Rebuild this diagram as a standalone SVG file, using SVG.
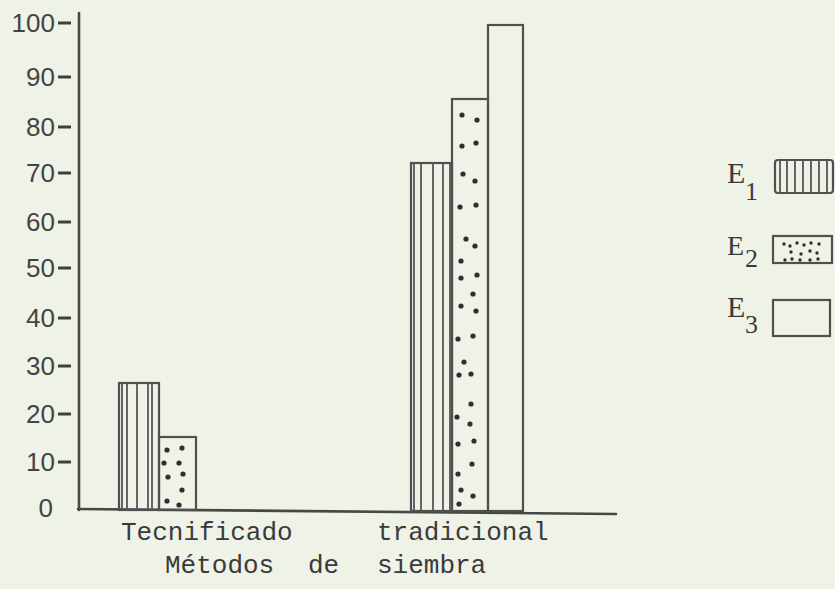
<svg xmlns="http://www.w3.org/2000/svg" width="835" height="589" viewBox="0 0 835 589">
<style>
.bg{fill:#eef2e7}
.ax{stroke:#474747;stroke-width:2.6;fill:none;stroke-linecap:round}
.tk{stroke:#3f3f3f;stroke-width:3}
.bar{fill:none;stroke:#4f4f4f;stroke-width:2.2}
.hl{stroke:#555;stroke-width:1.8}
.dot{fill:#2f2f2f}
.num{font-family:"Liberation Sans","DejaVu Sans",sans-serif;font-size:26px;fill:#444;text-anchor:end}
.lab{font-family:"Liberation Mono","DejaVu Sans Mono",monospace;font-size:26px;fill:#3a3a3a}
.leg{font-family:"Liberation Serif","DejaVu Serif",serif;fill:#3a3a3a}
</style>
<rect class="bg" x="0" y="0" width="835" height="589"/>
<g id="axes">
<line class="ax" x1="79" y1="13" x2="79" y2="510"/>
<line class="ax" x1="78" y1="509" x2="616" y2="514"/>
</g>
<g id="y-ticks">
<line class="tk" x1="58" y1="23" x2="71" y2="23"/>
<line class="tk" x1="58" y1="77" x2="71" y2="77"/>
<line class="tk" x1="58" y1="127" x2="71" y2="127"/>
<line class="tk" x1="58" y1="173" x2="71" y2="173"/>
<line class="tk" x1="58" y1="222" x2="71" y2="222"/>
<line class="tk" x1="58" y1="268" x2="71" y2="268"/>
<line class="tk" x1="58" y1="318" x2="71" y2="318"/>
<line class="tk" x1="58" y1="366" x2="71" y2="366"/>
<line class="tk" x1="58" y1="414" x2="71" y2="414"/>
<line class="tk" x1="58" y1="462" x2="71" y2="462"/>
<text class="num" x="55" y="32">100</text>
<text class="num" x="55" y="86">90</text>
<text class="num" x="55" y="136">80</text>
<text class="num" x="55" y="182">70</text>
<text class="num" x="55" y="231">60</text>
<text class="num" x="55" y="277">50</text>
<text class="num" x="55" y="327">40</text>
<text class="num" x="55" y="375">30</text>
<text class="num" x="55" y="423">20</text>
<text class="num" x="55" y="471">10</text>
<text class="num" x="53" y="517">0</text>
</g>
<g id="bar-tec-e1">
<rect class="bar" x="119" y="383" width="40" height="127"/>
<line class="hl" x1="122" y1="383" x2="122" y2="510"/>
<line class="hl" x1="127" y1="383" x2="127" y2="510"/>
<line class="hl" x1="137" y1="383" x2="137" y2="510"/>
<line class="hl" x1="148" y1="383" x2="148" y2="510"/>
<line class="hl" x1="152" y1="383" x2="152" y2="510"/>
</g>
<g id="bar-tec-e2">
<rect class="bar" x="159" y="437" width="37" height="73"/>
<circle class="dot" cx="167" cy="450" r="2.6"/><circle class="dot" cx="182" cy="448" r="2.6"/>
<circle class="dot" cx="164" cy="463" r="2.6"/><circle class="dot" cx="179" cy="463" r="2.6"/>
<circle class="dot" cx="168" cy="477" r="2.6"/><circle class="dot" cx="183" cy="474" r="2.6"/>
<circle class="dot" cx="182" cy="490" r="2.6"/><circle class="dot" cx="167" cy="501" r="2.6"/>
<circle class="dot" cx="179" cy="505" r="2.6"/>
</g>
<g id="bar-trad-e1">
<rect class="bar" x="411" y="163" width="41" height="348"/>
<line class="hl" x1="414" y1="163" x2="414" y2="511"/>
<line class="hl" x1="421" y1="163" x2="421" y2="511"/>
<line class="hl" x1="433" y1="163" x2="433" y2="511"/>
<line class="hl" x1="443" y1="163" x2="443" y2="511"/>
<line class="hl" x1="450" y1="163" x2="450" y2="511"/>
</g>
<g id="bar-trad-e2">
<rect class="bar" x="452" y="99" width="36" height="412"/>
<circle class="dot" cx="462" cy="115" r="2.6"/><circle class="dot" cx="477" cy="120" r="2.6"/>
<circle class="dot" cx="462" cy="146" r="2.6"/><circle class="dot" cx="476" cy="143" r="2.6"/>
<circle class="dot" cx="463" cy="174" r="2.6"/><circle class="dot" cx="475" cy="181" r="2.6"/>
<circle class="dot" cx="460" cy="207" r="2.6"/><circle class="dot" cx="476" cy="205" r="2.6"/>
<circle class="dot" cx="466" cy="239" r="2.6"/><circle class="dot" cx="475" cy="246" r="2.6"/>
<circle class="dot" cx="461" cy="261" r="2.6"/>
<circle class="dot" cx="461" cy="278" r="2.6"/><circle class="dot" cx="477" cy="275" r="2.6"/>
<circle class="dot" cx="473" cy="294" r="2.6"/><circle class="dot" cx="461" cy="306" r="2.6"/>
<circle class="dot" cx="476" cy="311" r="2.6"/><circle class="dot" cx="458" cy="339" r="2.6"/>
<circle class="dot" cx="473" cy="336" r="2.6"/><circle class="dot" cx="464" cy="362" r="2.6"/>
<circle class="dot" cx="459" cy="375" r="2.6"/><circle class="dot" cx="471" cy="374" r="2.6"/>
<circle class="dot" cx="471" cy="404" r="2.6"/><circle class="dot" cx="457" cy="417" r="2.6"/>
<circle class="dot" cx="470" cy="424" r="2.6"/><circle class="dot" cx="458" cy="444" r="2.6"/>
<circle class="dot" cx="474" cy="441" r="2.6"/><circle class="dot" cx="472" cy="464" r="2.6"/>
<circle class="dot" cx="458" cy="474" r="2.6"/><circle class="dot" cx="461" cy="490" r="2.6"/>
<circle class="dot" cx="473" cy="496" r="2.6"/><circle class="dot" cx="459" cy="504" r="2.6"/>
</g>
<g id="bar-trad-e3">
<rect class="bar" x="488" y="25" width="35" height="486"/>
</g>
<g id="x-labels">
<text class="lab" x="121" y="540">Tecnificado</text>
<text class="lab" x="377" y="540">tradicional</text>
<text class="lab" y="573"><tspan x="165">Métodos</tspan><tspan x="308">de</tspan><tspan x="377">siembra</tspan></text>
</g>
<g id="legend-e1">
<text class="leg" x="727" y="183" font-size="30">E<tspan x="745" y="200" font-size="26">1</tspan></text>
<rect class="bar" x="775" y="160" width="58" height="33" rx="3" stroke-width="2.6"/>
<line class="hl" x1="780" y1="160" x2="780" y2="193"/>
<line class="hl" x1="787" y1="160" x2="787" y2="193"/>
<line class="hl" x1="795" y1="160" x2="795" y2="193"/>
<line class="hl" x1="803" y1="160" x2="803" y2="193"/>
<line class="hl" x1="811" y1="160" x2="811" y2="193"/>
<line class="hl" x1="819" y1="160" x2="819" y2="193"/>
<line class="hl" x1="827" y1="160" x2="827" y2="193"/>
</g>
<g id="legend-e2">
<text class="leg" x="727" y="255" font-size="28">E<tspan x="745" y="267" font-size="26">2</tspan></text>
<rect class="bar" x="773" y="236" width="59" height="27" stroke-width="2.6"/>
<circle class="dot" cx="784" cy="244" r="1.7"/><circle class="dot" cx="790" cy="246" r="1.7"/>
<circle class="dot" cx="797" cy="243" r="1.7"/><circle class="dot" cx="804" cy="245" r="1.7"/>
<circle class="dot" cx="811" cy="243" r="1.7"/><circle class="dot" cx="819" cy="244" r="1.7"/>
<circle class="dot" cx="791" cy="252" r="1.7"/><circle class="dot" cx="801" cy="254" r="1.7"/>
<circle class="dot" cx="810" cy="251" r="1.7"/><circle class="dot" cx="817" cy="253" r="1.7"/>
<circle class="dot" cx="785" cy="260" r="1.7"/><circle class="dot" cx="792" cy="259" r="1.7"/>
<circle class="dot" cx="800" cy="260" r="1.7"/><circle class="dot" cx="810" cy="260" r="1.7"/>
<circle class="dot" cx="818" cy="259" r="1.7"/>
</g>
<g id="legend-e3">
<text class="leg" x="727" y="317" font-size="30">E<tspan x="745" y="333" font-size="26">3</tspan></text>
<rect class="bar" x="773" y="300" width="57" height="36" stroke-width="2.6"/>
</g>
</svg>
